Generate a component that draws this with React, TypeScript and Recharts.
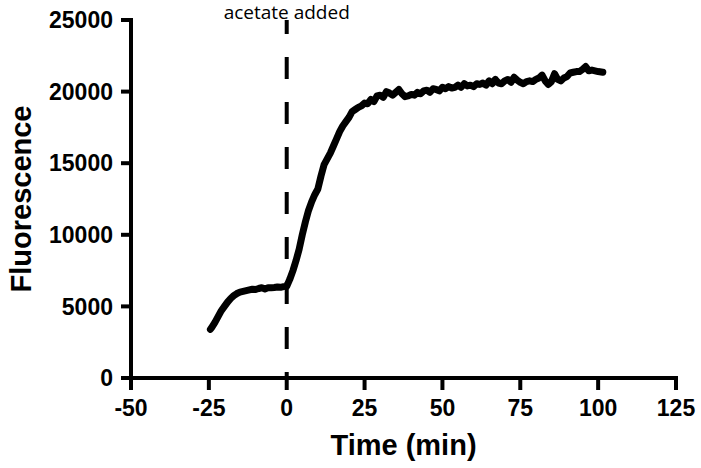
import { LineChart, Line, XAxis, YAxis, ReferenceLine } from 'recharts'

const time = [
  -24.5, -24, -23, -22, -21, -20, -19, -18, -17, -16, -15, -14, -13, -12, -11, -10,
  -9, -8, -7, -6, -5, -4, -3, -2, -1, 0,
  1, 2, 3, 4, 5, 6, 7, 8, 9, 10, 11, 12, 13, 14, 15, 16, 17, 18, 19, 20,
  21, 22, 23, 24, 25, 26, 27, 28, 29, 30, 31, 32, 33, 34, 35, 36, 37, 38, 39, 40,
  41, 42, 43, 44, 45, 46, 47, 48, 49, 50, 51, 52, 53, 54, 55, 56, 57, 58, 59, 60,
  61, 62, 63, 64, 65, 66, 67, 68, 69, 70, 71, 72, 73, 74, 75, 76, 77, 78, 79, 80,
  81, 82, 83, 84, 85, 86, 87, 88, 89, 90, 91, 92, 93, 94, 95, 96, 97, 98, 99, 100,
  101.5,
]

const fluorescence = [
  3400, 3550, 3900, 4300, 4700, 5000, 5300, 5550, 5750, 5900, 6000, 6050, 6100, 6150, 6200, 6180,
  6250, 6300, 6220, 6300, 6300, 6320, 6350, 6330, 6380, 6400,
  6900, 7500, 8200, 9000, 10000, 10900, 11700, 12300, 12800, 13200, 14100, 14900, 15300, 15700, 16200, 16700, 17200, 17600, 17900, 18200,
  18600, 18750, 18900, 19000, 19200, 19150, 19450, 19300, 19700, 19750, 19600, 20000, 19900, 19750, 19950, 20150, 19850, 19650, 19700, 19800,
  19750, 19950, 19850, 20050, 20100, 19950, 20200, 20150, 20050, 20300, 20200, 20350, 20250, 20300, 20450, 20300, 20550, 20400, 20450, 20350,
  20550, 20500, 20600, 20450, 20750, 20550, 20850, 20600, 20550, 20750, 20850, 20650, 21000, 20800, 20650, 20550, 20700, 20750, 20700, 20850,
  20950, 21150, 20750, 20500, 20700, 21250, 20850, 20750, 20950, 21050, 21300, 21350, 21400, 21400, 21550, 21750, 21450, 21500, 21450, 21400,
  21350,
]

const xTicks = [-50, -25, 0, 25, 50, 75, 100, 125]
const yTicks = [0, 5000, 10000, 15000, 20000, 25000]

const data = time.map((t, i) => ({ t, f: fluorescence[i] }))

const font = '"Liberation Sans", Arial, Helvetica, sans-serif'
const axisLine = { stroke: '#000', strokeWidth: 4, strokeLinecap: 'square' as const }
const tickLine = { stroke: '#000', strokeWidth: 4 }
const tickStyle = { fill: '#000', fontSize: 23, fontWeight: 'bold', fontFamily: font }

export default function App() {
  return (
    <div style={{ position: 'absolute', left: 0, top: 0, width: 701, height: 468, background: '#fff' }}>
      <LineChart width={701} height={468} data={data} margin={{ top: 20, right: 25, left: 0, bottom: 0 }}>
        <XAxis
          dataKey="t"
          type="number"
          domain={[-50, 125]}
          ticks={xTicks}
          interval={0}
          height={90}
          axisLine={axisLine}
          tickLine={tickLine}
          tickSize={12}
          tickMargin={10}
          tick={tickStyle}
          label={{
            value: 'Time (min)',
            position: 'insideBottom',
            offset: 13,
            fill: '#000',
            fontSize: 29,
            fontWeight: 'bold',
            fontFamily: font,
          }}
        />
        <YAxis
          type="number"
          domain={[0, 25000]}
          ticks={yTicks}
          interval={0}
          width={131}
          axisLine={axisLine}
          tickLine={tickLine}
          tickSize={10}
          tickMargin={8}
          tick={tickStyle}
          label={{
            value: 'Fluorescence',
            angle: -90,
            position: 'insideLeft',
            offset: 21,
            fill: '#000',
            fontSize: 29,
            fontWeight: 'bold',
            fontFamily: font,
            style: { textAnchor: 'middle' },
          }}
        />
        <ReferenceLine
          segment={[{ x: 0, y: 25000 }, { x: 0, y: 0 }]}
          stroke="#000"
          strokeWidth={4}
          strokeDasharray="22 23"
          strokeDashoffset={8}
          label={{
            value: 'acetate added',
            position: 'top',
            offset: 1,
            fill: '#000',
            fontSize: 19,
            fontFamily: '"Open Sans", sans-serif',
          }}
        />
        <Line
          type="linear"
          dataKey="f"
          stroke="#000"
          strokeWidth={7}
          strokeLinejoin="round"
          strokeLinecap="round"
          dot={false}
          isAnimationActive={false}
        />
      </LineChart>
    </div>
  )
}
